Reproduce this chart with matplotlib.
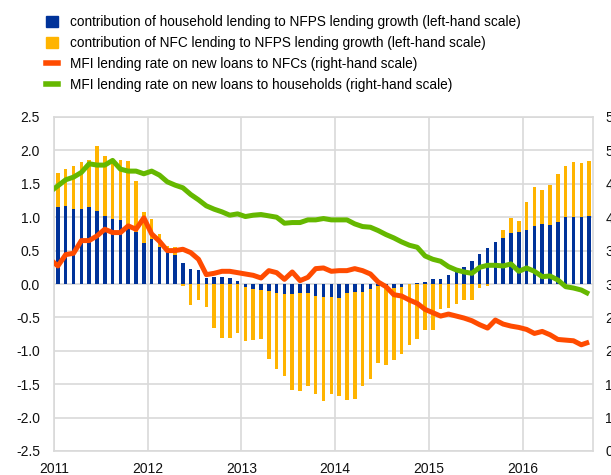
import numpy as np
import matplotlib
matplotlib.use("Agg")
import matplotlib.pyplot as plt
from matplotlib.patches import Patch
from matplotlib.lines import Line2D

plt.rcParams['font.family'] = ['Liberation Sans', 'DejaVu Sans']

# monthly contributions, Jan 2011 - Sep 2016 (left-hand scale, pp)
hh_contrib = [1.16, 1.17, 1.12, 1.13, 1.16, 1.10, 1.02, 0.98, 0.955, 0.87, 0.785, 0.62,
              0.67, 0.555, 0.50, 0.43, 0.31, 0.23, 0.21, 0.095, 0.105, 0.105, 0.09, 0.045,
              -0.04, -0.07, -0.095, -0.10, -0.13, -0.155, -0.155, -0.13, -0.13, -0.18, -0.195, -0.195,
              -0.205, -0.14, -0.12, -0.115, -0.08, -0.03, -0.01, -0.055, -0.045, 0.0, 0.015, 0.035,
              0.07, 0.07, 0.13, 0.195, 0.26, 0.345, 0.445, 0.54, 0.625, 0.69, 0.76, 0.775,
              0.805, 0.875, 0.905, 0.885, 0.935, 1.005, 1.005, 1.005, 1.025]
nfc_contrib = [0.50, 0.55, 0.64, 0.69, 0.69, 0.97, 0.90, 0.89, 0.905, 0.965, 0.76, 0.46,
               0.31, 0.20, 0.07, 0.12, -0.03, -0.315, -0.235, -0.345, -0.665, -0.805, -0.805, -0.735,
               -0.82, -0.77, -0.735, -1.02, -1.14, -1.225, -1.425, -1.475, -1.40, -1.465, -1.56, -1.445,
               -1.475, -1.60, -1.595, -1.415, -1.335, -1.15, -1.205, -1.09, -1.01, -0.92, -0.82, -0.695,
               -0.695, -0.38, -0.365, -0.305, -0.24, -0.245, -0.065, -0.035, 0.0, 0.125, 0.23, 0.17,
               0.425, 0.58, 0.50, 0.59, 0.705, 0.755, 0.82, 0.805, 0.81]

# lending rates, Dec 2010 - Sep 2016 (right-hand scale, %)
rate_nfc = [3.37, 3.27, 3.44, 3.46, 3.65, 3.65, 3.72, 3.82, 3.77, 3.77, 3.87, 3.82, 3.99,
            3.75, 3.64, 3.50, 3.50, 3.52, 3.47, 3.37, 3.14, 3.16, 3.19, 3.19, 3.17,
            3.15, 3.13, 3.09, 3.20, 3.17, 3.07, 3.18, 3.05, 3.10, 3.23, 3.24, 3.19,
            3.20, 3.20, 3.23, 3.20, 3.15, 3.03, 2.96, 2.84, 2.82, 2.76, 2.71, 2.62,
            2.57, 2.52, 2.55, 2.52, 2.49, 2.45, 2.39, 2.34, 2.46, 2.40, 2.37, 2.35,
            2.32, 2.26, 2.29, 2.24, 2.17, 2.16, 2.15, 2.09, 2.13]
rate_hh = [4.38, 4.47, 4.56, 4.60, 4.67, 4.80, 4.78, 4.78, 4.85, 4.72, 4.69, 4.69, 4.65,
           4.69, 4.63, 4.53, 4.48, 4.44, 4.34, 4.26, 4.17, 4.12, 4.08, 4.03, 4.05,
           4.01, 4.03, 4.04, 4.02, 4.00, 3.91, 3.92, 3.92, 3.96, 3.96, 3.98, 3.96,
           3.96, 3.96, 3.90, 3.86, 3.85, 3.80, 3.74, 3.69, 3.63, 3.58, 3.55, 3.42,
           3.37, 3.34, 3.26, 3.21, 3.18, 3.16, 3.25, 3.28, 3.28, 3.27, 3.30, 3.19,
           3.24, 3.19, 3.11, 3.12, 3.06, 2.96, 2.94, 2.91, 2.85]

years = ['2011', '2012', '2013', '2014', '2015', '2016']

labels = ['contribution of household lending to NFPS lending growth (left-hand scale)',
          'contribution of NFC lending to NFPS lending growth (left-hand scale)',
          'MFI lending rate on new loans to NFCs (right-hand scale)',
          'MFI lending rate on new loans to households (right-hand scale)']

c_blue = '#003299'
c_yellow = '#FFB400'
c_orange = '#FF4B00'
c_green = '#65B800'
c_grid = '#d9d9d9'

hh = np.array(hh_contrib)
nfc = np.array(nfc_contrib)
x_bar = np.arange(len(hh)) + 0.5
x_line = np.arange(-1, len(rate_nfc) - 1) + 0.5
nfc_bottom = np.where(np.sign(nfc) == np.sign(hh), hh, 0.0)

fig = plt.figure(figsize=(6.11, 4.75), dpi=100)
ax = fig.add_axes([54 / 611, 24 / 475, 539 / 611, 334 / 475])

ax.bar(x_bar, hh, width=0.45, color=c_blue, zorder=2)
ax.bar(x_bar, nfc, width=0.45, bottom=nfc_bottom, color=c_yellow, zorder=2)

ax.set_xlim(0, len(hh))
ax.set_ylim(-2.5, 2.5)
ax.set_yticks(np.arange(-2.5, 2.51, 0.5))
ax.set_yticklabels(['%.1f' % v for v in np.arange(-2.5, 2.51, 0.5)])
ax.set_xticks(np.arange(len(years)) * 12)
ax.set_xticklabels(years)
ax.set_axisbelow(True)
ax.grid(True, color=c_grid, linewidth=1.2)
ax.tick_params(length=0, labelsize=10, colors='#111111')
ax.tick_params(axis='y', pad=10)
ax.tick_params(axis='x', pad=8)
for s in ax.spines.values():
    s.set_color(c_grid)
    s.set_linewidth(1.2)

ax2 = ax.twinx()
ax2.plot(x_line, rate_nfc, color=c_orange, lw=3.6, solid_joinstyle='round', solid_capstyle='butt')
ax2.plot(x_line, rate_hh, color=c_green, lw=3.6, solid_joinstyle='round', solid_capstyle='butt')
ax2.set_ylim(0.5, 5.5)
ax2.set_yticks(np.arange(0.5, 5.51, 0.5))
ax2.set_yticklabels(['%.1f' % v for v in np.arange(0.5, 5.51, 0.5)])
ax2.tick_params(length=0, labelsize=10, colors='#111111', pad=9)
for s in ax2.spines.values():
    s.set_visible(False)

handles = [Patch(color=c_blue), Patch(color=c_yellow),
           Line2D([], [], color=c_orange, lw=4), Line2D([], [], color=c_green, lw=4)]
fig.legend(handles, labels, loc='upper left', bbox_to_anchor=(46 / 611, 1 - 15 / 475),
           frameon=False, fontsize=9.8, handlelength=0.85, handleheight=0.85,
           handletextpad=0.9, labelspacing=0.52, borderaxespad=0, borderpad=0)

fig.savefig('out.png', dpi=100)
